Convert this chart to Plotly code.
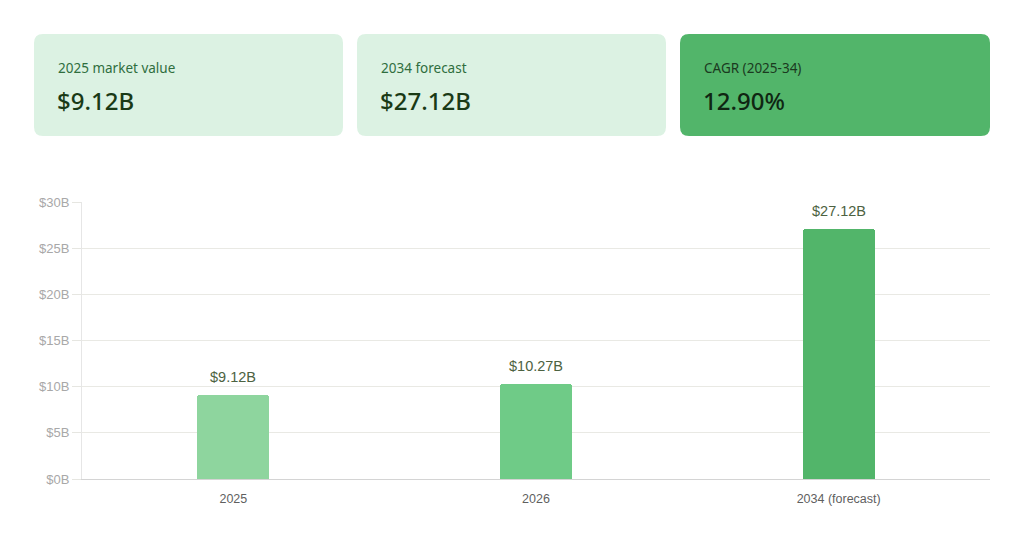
import plotly.graph_objects as go

categories = ["2025", "2026", "2034 (forecast)"]
values = [9.12, 10.27, 27.12]
value_labels = ["$9.12B", "$10.27B", "$27.12B"]
bar_colors = ["#8ed59e", "#6fcb87", "#52b56a"]
tick_vals = [0, 5, 10, 15, 20, 25, 30]
tick_text = ["$0B", "$5B", "$10B", "$15B", "$20B", "$25B", "$30B"]

card_labels = ["2025 market value", "2034 forecast", "CAGR (2025-34)"]
card_values = ["$9.12B", "$27.12B", "12.90%"]
card_fills = ["#dcf2e3", "#dcf2e3", "#52b56a"]
card_label_colors = ["#2f6e3e", "#2f6e3e", "#1b3a1f"]
card_value_colors = ["#1a3a16", "#1a3a16", "#0f2612"]

W, H = 1024, 546
ML, MR, MT, MB = 82, 34, 202, 67
PW, PH = W - ML - MR, H - MT - MB


def px(x):
    return (x - ML) / PW


def py(y):
    return (H - MB - y) / PH


def rounded(x0, y0, x1, y1, r):
    pts = [
        f"M {px(x0 + r)} {py(y0)}",
        f"L {px(x1 - r)} {py(y0)}",
        f"Q {px(x1)} {py(y0)} {px(x1)} {py(y0 + r)}",
        f"L {px(x1)} {py(y1 - r)}",
        f"Q {px(x1)} {py(y1)} {px(x1 - r)} {py(y1)}",
        f"L {px(x0 + r)} {py(y1)}",
        f"Q {px(x0)} {py(y1)} {px(x0)} {py(y1 - r)}",
        f"L {px(x0)} {py(y0 + r)}",
        f"Q {px(x0)} {py(y0)} {px(x0 + r)} {py(y0)}",
        "Z",
    ]
    return " ".join(pts)


fig = go.Figure()
fig.add_trace(go.Bar(
    x=categories, y=values,
    marker=dict(color=bar_colors, line=dict(width=0), cornerradius=3),
    width=0.238, hoverinfo="skip", showlegend=False,
))

for i, (v, t) in enumerate(zip(values, value_labels)):
    fig.add_annotation(x=i, y=v, text=t, showarrow=False, yanchor="bottom",
                       yshift=8, font=dict(family="Liberation Sans, Arial", size=14.5, color="#4d6241"))

shapes = []
card_x = [(34, 343), (357, 666), (680, 990)]
for i, (x0, x1) in enumerate(card_x):
    shapes.append(dict(type="path", xref="paper", yref="paper",
                       path=rounded(x0, 34, x1, 136, 9),
                       fillcolor=card_fills[i], line=dict(width=0), layer="below"))
    fig.add_annotation(xref="paper", yref="paper", x=px(x0 + 22), y=py(68),
                       xanchor="left", yanchor="middle", showarrow=False,
                       text=card_labels[i],
                       font=dict(family="Noto Sans", size=13.5, color=card_label_colors[i]))
    fig.add_annotation(xref="paper", yref="paper", x=px(x0 + 21), y=py(100),
                       xanchor="left", yanchor="middle", showarrow=False,
                       text=card_values[i],
                       font=dict(family="Noto Sans", size=24, color=card_value_colors[i], weight=500))

fig.update_layout(
    width=W, height=H,
    margin=dict(l=ML, r=MR, t=MT, b=MB),
    paper_bgcolor="white", plot_bgcolor="white",
    shapes=shapes,
    bargap=0,
    font=dict(family="Liberation Sans, Arial"),
    xaxis=dict(type="category", categoryorder="array", categoryarray=categories,
               range=[-0.5, len(categories) - 0.5],
               showgrid=False, showline=True, linecolor="#d4d4d4", linewidth=1,
               ticks="", ticklabelstandoff=8,
               tickfont=dict(size=12.5, color="#5f5f5f"), fixedrange=True),
    yaxis=dict(range=[0, 30], tickvals=tick_vals, ticktext=tick_text,
               showgrid=True, gridcolor="#e9e9e4", gridwidth=1,
               showline=True, linecolor="#e6e6e6", linewidth=1,
               ticks="outside", ticklen=9, tickcolor="#e6e6e1",
               tickfont=dict(size=13, color="#a8a8a8"), zeroline=False, fixedrange=True),
)

fig.write_html("out.html", config={"displayModeBar": False})
